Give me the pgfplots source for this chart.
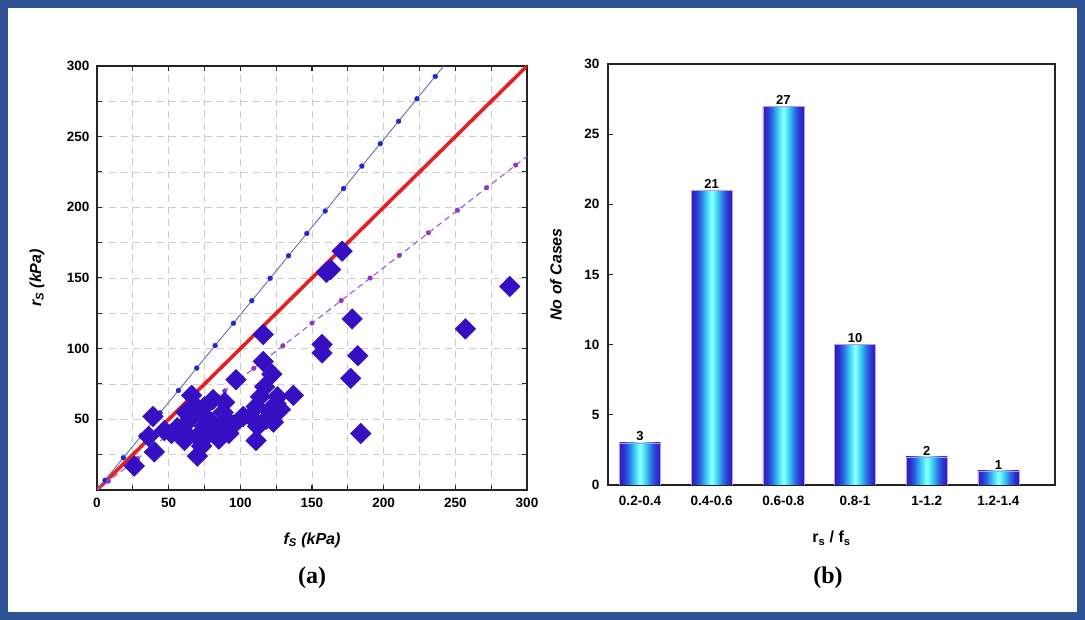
\documentclass[border=0pt]{standalone}
\usepackage{fontspec}
\setmainfont{Liberation Sans}
\newfontfamily\captionfont{Liberation Serif}
\usepackage{pgfplots}
\pgfplotsset{compat=1.18}

\definecolor{frameblue}{RGB}{47,84,150}
\definecolor{diamondfill}{RGB}{55,15,195}
\definecolor{fitred}{RGB}{228,32,32}
\definecolor{upperline}{RGB}{105,112,170}
\definecolor{upperdot}{RGB}{30,40,215}
\definecolor{lowerline}{RGB}{165,90,205}
\definecolor{lowerdot}{RGB}{150,50,200}
\definecolor{barrim}{RGB}{190,150,235}
\definecolor{axisgray}{RGB}{35,35,35}

% vertical stripes: dark blue edges, wide cyan core
\pgfdeclarehorizontalshading{barshade}{100bp}{%
  rgb(0bp)=(0.18,0.12,0.70);
  rgb(25bp)=(0.18,0.12,0.70);
  rgb(30bp)=(0.16,0.20,0.80);
  rgb(36bp)=(0.18,0.42,0.90);
  rgb(42bp)=(0.22,0.75,0.95);
  rgb(46bp)=(0.30,0.93,0.97);
  rgb(50bp)=(0.62,1.00,1.00);
  rgb(54bp)=(0.30,0.93,0.97);
  rgb(58bp)=(0.22,0.75,0.95);
  rgb(64bp)=(0.18,0.42,0.90);
  rgb(70bp)=(0.16,0.20,0.80);
  rgb(75bp)=(0.18,0.12,0.70);
  rgb(100bp)=(0.18,0.12,0.70)}

\pgfplotsset{
  every tick label/.append style={font=\bfseries\fontsize{13.5}{15}\selectfont},
  /pgf/number format/assume math mode=true,
  casebar/.style={ybar, bar width=41pt, draw=barrim, line width=0.6pt,
    shading=barshade, nodes near coords,
    nodes near coords style={text=black, anchor=south, inner sep=1.5pt,
      font=\bfseries\fontsize{13}{14}\selectfont}},
}

\begin{document}
\begin{tikzpicture}
\useasboundingbox (0pt,0pt) rectangle (1085pt,620pt);
\fill[frameblue] (0pt,0pt) rectangle (1085pt,620pt);
\fill[white] (8pt,8pt) rectangle (1077pt,612pt);

% ---------- (a) measured vs. predicted ----------
\begin{axis}[
  at={(97pt,130pt)}, anchor=south west,
  scale only axis, width=430pt, height=424pt,
  xmin=0, xmax=300, ymin=0, ymax=300,
  xtick={0,50,...,300}, ytick={0,50,...,300},
  yticklabels={,50,100,150,200,250,300},
  minor tick num=1,
  grid=both,
  major grid style={gray!40, line width=0.8pt, dash pattern=on 7pt off 5pt},
  minor grid style={gray!40, line width=0.8pt, dash pattern=on 7pt off 5pt},
  tick align=inside, xtick pos=both, ytick pos=both,
  major tick length=5pt, minor tick length=5pt,
  tick style={axisgray, line width=1pt},
  axis line style={axisgray, line width=1.6pt},
  xticklabel style={yshift=-5pt},
  yticklabel style={xshift=-4pt},
  xlabel={\bfseries\itshape f\textsubscript{S} (kPa)},
  xlabel style={at={(axis description cs:0.5,-0.118)}, anchor=center,
    font=\fontsize{16}{18}\selectfont},
  ylabel={\bfseries\itshape r\textsubscript{S} (kPa)},
  ylabel style={at={(axis description cs:-0.1395,0.5)}, anchor=center,
    font=\fontsize{16}{18}\selectfont},
]
% 1:1 line
\addplot[fitred, line width=3.6pt, no marks] coordinates {(0,0) (300,300)};
% upper bound line with its markers
\addplot[upperline, line width=0.9pt, no marks] coordinates {(0,0) (241.9,300)};
\addplot[only marks, mark=*, mark size=2.4pt, upperdot] coordinates {
  (5.6,6.9) (18.4,22.8) (31.2,38.7) (44.0,54.6) (56.8,70.4) (69.6,86.3)
  (82.4,102.2) (95.2,118.0) (108.0,133.9) (120.8,149.8) (133.6,165.7)
  (146.4,181.5) (159.2,197.4) (172.0,213.3) (184.8,229.2) (197.6,245.0)
  (210.4,260.9) (223.2,276.8) (236.0,292.6)};
% lower bound line with its markers
\addplot[lowerline, line width=1.1pt, no marks, dash pattern=on 6pt off 4pt]
  coordinates {(0,0) (300,236)};
\addplot[only marks, mark=*, mark size=2.3pt, lowerdot] coordinates {
  (7.9,6.2) (28.2,22.2) (48.5,38.2) (68.8,54.1) (89.1,70.1) (109.4,86.1)
  (129.7,102.1) (150.0,118.1) (170.3,134.0) (190.6,150.0) (210.9,166.0)
  (231.2,182.0) (251.5,197.9) (271.8,213.9) (292.1,229.9)};
% measured cases
\addplot[only marks, mark=square*, mark size=7.3pt, diamondfill,
  mark options={rotate=45}] coordinates {
  (288,144) (257,114) (171,169) (163,156) (160,154) (178,121)
  (116,110) (157,103) (157,97) (182,95) (177,79) (184,40)
  (111,35) (137,67) (116,91) (122,82) (97,78) (39,52)
  (26,17) (36,38) (40,27) (66,67)
  (107,52) (123,48) (126,66) (114,66) (117,73) (128,57)
  (111,59) (102,52) (125,61) (81,64) (75,52) (84,42)
  (75,59) (52,40) (61,35) (70,24) (75,45) (73,31)
  (68,60) (88,55) (92,40) (85,36) (60,42) (80,48)
  (70,38) (95,46) (118,50) (65,50) (56,44) (78,40)
  (89,62) (120,56) (112,45) (47,42) (62,55) (90,50)};
\end{axis}

% ---------- (b) distribution of the ratio ----------
\begin{axis}[
  at={(608pt,135pt)}, anchor=south west,
  scale only axis, width=447pt, height=421pt,
  xmin=-0.4465, xmax=5.79, ymin=0, ymax=30,
  xtick={0,1,2,3,4,5},
  xticklabels={0.2-0.4,0.4-0.6,0.6-0.8,0.8-1,1-1.2,1.2-1.4},
  x tick style={draw=none},
  ytick={0,5,...,30}, ytick pos=left,
  tick align=inside, major tick length=5pt,
  tick style={axisgray, line width=1pt},
  axis line style={axisgray, line width=1.6pt},
  xticklabel style={yshift=-8pt},
  yticklabel style={xshift=-5pt},
  xlabel={\bfseries r\textsubscript{s} / f\textsubscript{s}},
  xlabel style={at={(axis description cs:0.5,-0.126)}, anchor=center,
    font=\fontsize{16}{18}\selectfont},
  ylabel={\bfseries\itshape No of Cases},
  ylabel style={at={(axis description cs:-0.1163,0.5)}, anchor=center,
    font=\fontsize{16}{18}\selectfont},
]
% one plot per class so that every bar carries its own shading
\addplot[casebar] coordinates {(0,3)};
\addplot[casebar] coordinates {(1,21)};
\addplot[casebar] coordinates {(2,27)};
\addplot[casebar] coordinates {(3,10)};
\addplot[casebar] coordinates {(4,2)};
\addplot[casebar] coordinates {(5,1)};
\end{axis}

% panel captions
\node[font=\captionfont\bfseries\fontsize{24}{26}\selectfont] at (312pt,42pt) {(a)};
\node[font=\captionfont\bfseries\fontsize{24}{26}\selectfont] at (828pt,42pt) {(b)};
\end{tikzpicture}
\end{document}
